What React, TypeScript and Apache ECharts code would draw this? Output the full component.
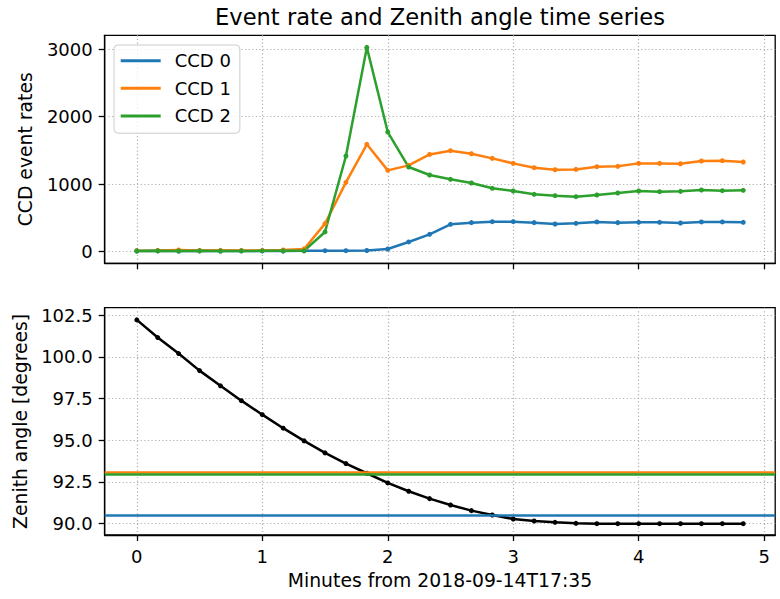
import React, { useEffect, useRef } from "react";
import * as echarts from "echarts";

// Time axis: minutes from 2018-09-14T17:35 (one sample every 10 s)
const minutes = [
  0, 0.1667, 0.3333, 0.5, 0.6667, 0.8333, 1, 1.1667, 1.3333, 1.5,
  1.6667, 1.8333, 2, 2.1667, 2.3333, 2.5, 2.6667, 2.8333, 3, 3.1667,
  3.3333, 3.5, 3.6667, 3.8333, 4, 4.1667, 4.3333, 4.5, 4.6667, 4.8333,
];

// CCD event rates
const ccd0 = [
  10, 12, 10, 12, 10, 11, 12, 10, 14, 15, 15, 18, 40, 144, 257, 405, 430, 444,
  444, 430, 410, 420, 440, 430, 435, 435, 425, 440, 440, 435,
];
const ccd1 = [
  15, 18, 25, 18, 20, 17, 20, 25, 40, 415, 1026, 1589, 1204, 1278, 1440, 1495,
  1450, 1381, 1307, 1243, 1213, 1218, 1258, 1263, 1307, 1307, 1302, 1342, 1347,
  1327,
];
const ccd2 = [
  10, 12, 10, 12, 10, 11, 12, 12, 14, 292, 1416, 3024, 1771, 1253, 1135, 1071,
  1017, 938, 898, 849, 829, 814, 839, 869, 898, 888, 893, 913, 903, 908,
];

// Zenith angle [degrees]
const zenith = [
  102.21, 101.15, 100.19, 99.17, 98.26, 97.37, 96.53, 95.72, 94.96, 94.24,
  93.6, 93.02, 92.44, 91.94, 91.5, 91.12, 90.78, 90.52, 90.28, 90.16, 90.08,
  90.02, 90.0, 90.0, 90.0, 90.0, 90.0, 90.0, 90.0, 90.0,
];

// Horizontal reference lines for each CCD on the zenith panel
const zenithRefLines = [90.52, 93.08, 92.98];

const seriesNames = ["CCD 0", "CCD 1", "CCD 2"];
const colors = ["#1f77b4", "#ff7f0e", "#2ca02c"];

const xTicks = [0, 1, 2, 3, 4, 5];
const rateTicks = [0, 1000, 2000, 3000];
const zenithTicks = [90, 92.5, 95, 97.5, 100, 102.5];

const titleText = "Event rate and Zenith angle time series";
const xName = "Minutes from 2018-09-14T17:35";
const rateName = "CCD event rates";
const zenithName = "Zenith angle [degrees]";

const FONT = "DejaVu Sans";

export default function App() {
  const ref = useRef<HTMLDivElement>(null);

  useEffect(() => {
    if (!ref.current) return;
    const chart = echarts.init(ref.current, null, { renderer: "svg" });

    const rates = [ccd0, ccd1, ccd2];
    const X_MIN = -0.256;
    const X_MAX = 5.088;

    const splitLine = {
      show: true,
      lineStyle: { color: "#b0b0b0", width: 1.2, type: [1.2, 2.4] },
    };
    const axisLine = {
      show: true,
      onZero: false,
      lineStyle: { color: "#000", width: 1.3 },
    };
    const tickStyle = { color: "#000", width: 1.3 };

    const xAxisBase = (grid: number, showLabel: boolean) => ({
      type: "value",
      gridIndex: grid,
      min: X_MIN,
      max: X_MAX,
      axisLine,
      axisTick: { show: true, length: 6, lineStyle: tickStyle, customValues: xTicks },
      axisLabel: {
        show: showLabel,
        customValues: xTicks,
        fontSize: 18,
        fontFamily: FONT,
        color: "#000",
        margin: 12,
      },
      splitLine,
      name: showLabel ? xName : "",
      nameLocation: "middle",
      nameGap: 36,
      nameTextStyle: { fontSize: 18.8, fontFamily: FONT, color: "#000" },
    });

    const option: any = {
      animation: false,
      backgroundColor: "#fff",
      graphic: [
        {
          type: "text",
          x: 440,
          y: 17,
          style: {
            text: titleText,
            fontSize: 22.6,
            fontFamily: FONT,
            fill: "#000",
            textAlign: "center",
            textVerticalAlign: "middle",
          },
        },
      ],
      legend: {
        data: seriesNames,
        orient: "vertical",
        left: 114,
        top: 45,
        icon: "rect",
        itemWidth: 40,
        itemHeight: 3,
        itemGap: 9.6,
        padding: [6.7, 9, 8.3, 6.7],
        backgroundColor: "rgba(255,255,255,0.8)",
        borderColor: "#cccccc",
        borderWidth: 1,
        borderRadius: 4,
        selectedMode: false,
        textStyle: {
          fontSize: 18,
          fontFamily: FONT,
          color: "#000",
          lineHeight: 18,
          padding: [0, 0, 0, 9],
        },
      },
      grid: [
        {
          left: 104.7,
          right: 4.8,
          top: 35.3,
          height: 228,
          show: true,
          borderColor: "#000",
          borderWidth: 1.3,
        },
        {
          left: 104.7,
          right: 4.8,
          top: 307.7,
          height: 227.3,
          show: true,
          borderColor: "#000",
          borderWidth: 1.3,
        },
      ],
      xAxis: [xAxisBase(0, false), xAxisBase(1, true)],
      yAxis: [
        {
          type: "value",
          gridIndex: 0,
          min: -172,
          max: 3203,
          axisLine,
          axisTick: { show: true, length: 6, lineStyle: tickStyle, customValues: rateTicks },
          axisLabel: {
            customValues: rateTicks,
            fontSize: 18,
            fontFamily: FONT,
            color: "#000",
            margin: 12,
            formatter: (v: number) => String(Math.round(v)),
          },
          splitLine,
          name: rateName,
          nameLocation: "middle",
          nameGap: 70,
          nameTextStyle: { fontSize: 18.8, fontFamily: FONT, color: "#000" },
        },
        {
          type: "value",
          gridIndex: 1,
          min: 89.32,
          max: 102.94,
          axisLine,
          axisTick: { show: true, length: 6, lineStyle: tickStyle, customValues: zenithTicks },
          axisLabel: {
            customValues: zenithTicks,
            fontSize: 18,
            fontFamily: FONT,
            color: "#000",
            margin: 12,
            formatter: (v: number) => v.toFixed(1),
          },
          splitLine,
          name: zenithName,
          nameLocation: "middle",
          nameGap: 74,
          nameTextStyle: { fontSize: 18.8, fontFamily: FONT, color: "#000" },
        },
      ],
      series: [
        ...rates.map((arr, k) => ({
          type: "line",
          name: seriesNames[k],
          xAxisIndex: 0,
          yAxisIndex: 0,
          data: minutes.map((m, i) => [m, arr[i]]),
          symbol: "circle",
          symbolSize: 5,
          showSymbol: true,
          lineStyle: { width: 2.5, color: colors[k] },
          itemStyle: { color: colors[k] },
          emphasis: { disabled: true },
          silent: true,
        })),
        {
          type: "line",
          name: "Zenith",
          xAxisIndex: 1,
          yAxisIndex: 1,
          data: minutes.map((m, i) => [m, zenith[i]]),
          symbol: "circle",
          symbolSize: 5,
          showSymbol: true,
          lineStyle: { width: 2.5, color: "#000" },
          itemStyle: { color: "#000" },
          emphasis: { disabled: true },
          silent: true,
        },
        ...zenithRefLines.map((v, k) => ({
          type: "line",
          name: seriesNames[k] + " ref",
          xAxisIndex: 1,
          yAxisIndex: 1,
          data: [],
          markLine: {
            silent: true,
            symbol: ["none", "none"],
            label: { show: false },
            lineStyle: { color: colors[k], width: 2.5, type: "solid" },
            data: [{ yAxis: v }],
          },
        })),
      ],
    };

    chart.setOption(option);
    return () => chart.dispose();
  }, []);

  return (
    <div
      ref={ref}
      style={{ position: "fixed", left: 0, top: 0, width: 780, height: 599, background: "#fff" }}
    />
  );
}
